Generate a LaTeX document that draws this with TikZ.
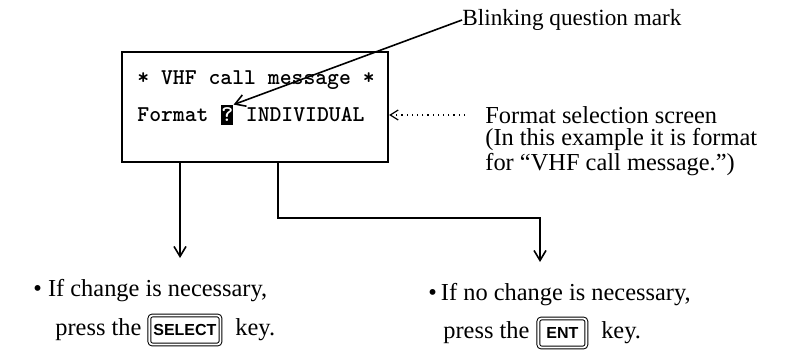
\documentclass[tikz,border=0pt]{standalone}
\usepackage{fontspec}
\setmainfont{Liberation Serif}
\newfontfamily\keyfont{Liberation Sans}
\usetikzlibrary{arrows.meta,positioning}

\tikzset{
  lcd/.style={font=\ttfamily\bfseries\fontsize{11.3}{13}\selectfont, inner sep=0pt},
  note/.style={anchor=west, inner sep=0pt, font=\fontsize{12.2}{14}\selectfont},
  keycap/.style={draw, double, double distance=0.9pt, rounded corners=1.5pt,
    line width=0.5pt, inner xsep=2pt, inner ysep=2pt, minimum height=14.5pt,
    font=\keyfont\bfseries\fontsize{8}{9}\selectfont},
  arr/.style={line width=0.8pt, -{Straight Barb[length=5pt,width=6pt]}},
}

\begin{document}
\begin{tikzpicture}[x=0.5pt,y=-0.5pt]
  \useasboundingbox (0,0) rectangle (791,352);

  % Pantalla de seleccion de formato.
  \node[draw, line width=1.1pt, minimum width=133pt, minimum height=55pt, inner sep=0pt] (screen) at (255,107) {};
  \node[lcd, anchor=west] (title) at (137,80) {* VHF call message *};
  \node[lcd, anchor=west] (fmt) at (137,115) {Format};
  \node[lcd, fill=black, text=white, minimum width=5.95pt, minimum height=10pt, right=5.95pt of fmt] (qm) {?};
  \node[lcd, right=5.95pt of qm] (indiv) {INDIVIDUAL};

  % Llamadas a la derecha.
  \node[note, font=\fontsize{11.6}{14}\selectfont] (blink) at (462,20) {Blinking question mark};
  \draw[arr] (blink.west) -- (qm.north east);
  \node[note] (sel) at (485,115) {Format selection screen};
  \node[note] (example) at (485,140) {(In this example it is format};
  \node[note] (forvhf) at (485,165) {for “VHF call message.”)};
  \draw[line width=0.6pt, dotted, -{Straight Barb[length=4pt,width=5pt]}, shorten <=10pt] (sel.west) -- (sel.west -| screen.east);

  % Las dos salidas.
  \coordinate (leftend) at (180,258);
  \coordinate (bend) at (278,218);
  \coordinate (rightend) at (540,262);
  \draw[arr] (screen.south -| leftend) -- (leftend);
  \draw[arr] (screen.south -| bend) -- (bend) -| (rightend);

  \node[note] (change) at (33,291) {\textbullet\ If change is necessary,};
  \node[note] (press) at (55,330) {press the};
  \node[keycap, right=3.5pt of press] (selkey) {SELECT};
  \node[note, right=7pt of selkey] (key) {key.};

  \node[note] (nochange) at (428,295) {\textbullet\,If no change is necessary,};
  \node[note] (pressb) at (443,333) {press the};
  \node[keycap, inner xsep=4pt, right=4pt of pressb] (entkey) {ENT};
  \node[note, right=7pt of entkey] (keyb) {key.};
\end{tikzpicture}
\end{document}
